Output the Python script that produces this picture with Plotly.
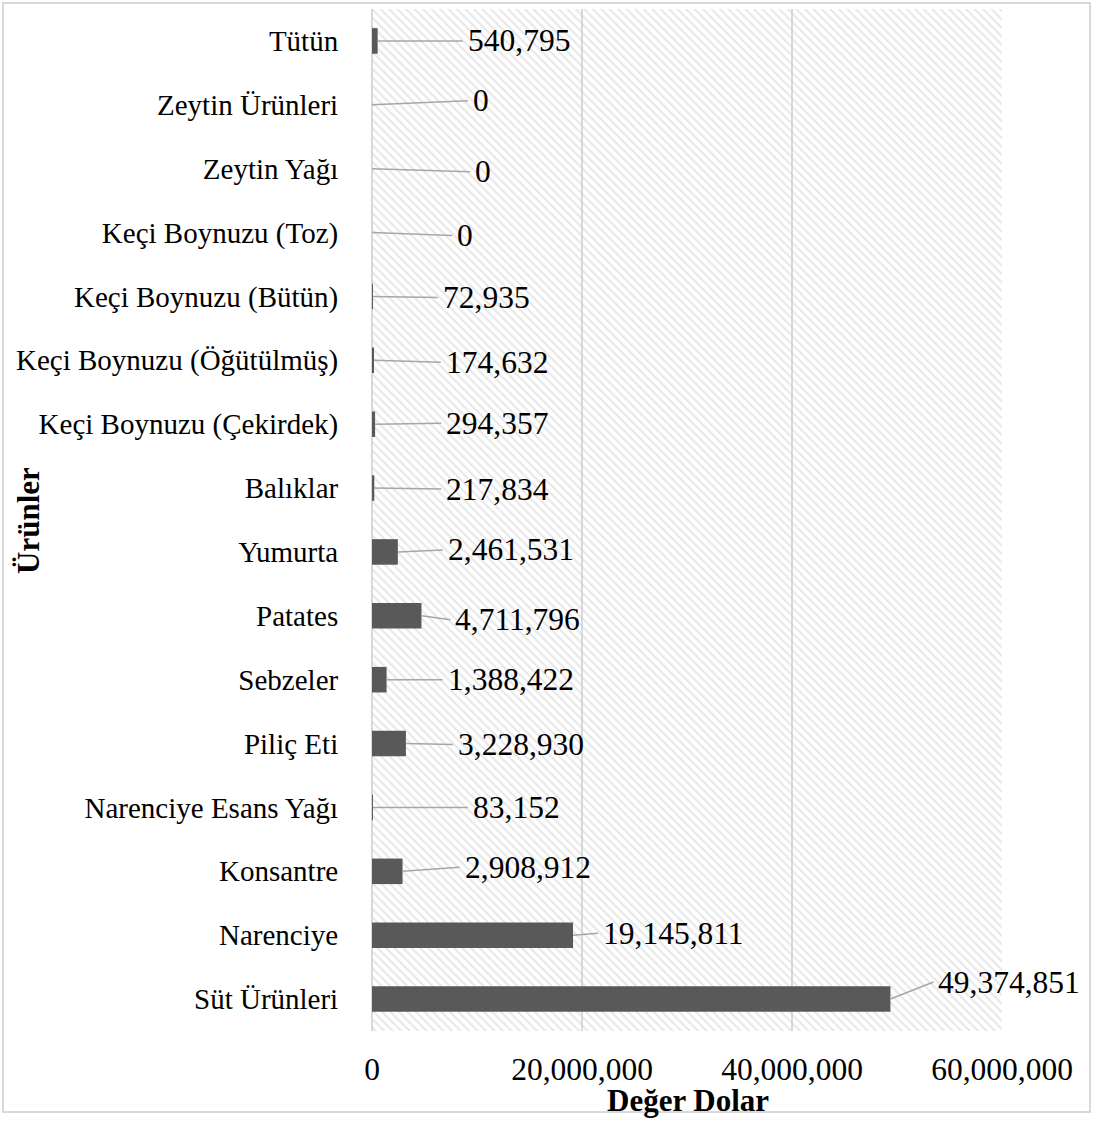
import plotly.graph_objects as go

# ---- data ----
categories = ["Süt Ürünleri", "Narenciye", "Konsantre", "Narenciye Esans Yağı",
              "Piliç Eti", "Sebzeler", "Patates", "Yumurta", "Balıklar",
              "Keçi Boynuzu (Çekirdek)", "Keçi Boynuzu (Öğütülmüş)",
              "Keçi Boynuzu (Bütün)", "Keçi Boynuzu (Toz)", "Zeytin Yağı",
              "Zeytin Ürünleri", "Tütün"]
values = [49374851, 19145811, 2908912, 83152, 3228930, 1388422, 4711796,
          2461531, 217834, 294357, 174632, 72935, 0, 0, 0, 540795]
x_tick_values = [0, 20000000, 40000000, 60000000]
x_tick_labels = ["0", "20,000,000", "40,000,000", "60,000,000"]
x_title = "Değer Dolar"
y_title = "Ürünler"

# ---- style (label leader offsets in px) ----
label_dx = [43, 25, 57, 95, 47, 56, 29, 45, 67, 66, 67, 65, 80, 98, 96, 85]
label_dy = [-17, -2, -4, 0, 1, 0, 4, -2, 1, -1, 2, 1, 3, 3, -4, 0]

W, H = 1096, 1121
L, R, T, B = 372, 94, 9, 90
FONT = "Liberation Serif"
x_range = [x_tick_values[0], x_tick_values[-1]]
y_pos = list(range(len(categories)))
y_range = [-0.5, len(categories) - 0.5]

fig = go.Figure()

# hatched plot-area background (a single bar spanning the whole plot area)
fig.add_trace(go.Bar(
    x=[x_range[1]], base=[x_range[0]],
    y=[(y_range[0] + y_range[1]) / 2], width=[y_range[1] - y_range[0]],
    orientation="h",
    marker=dict(color="rgba(0,0,0,0)", line=dict(width=0),
                pattern=dict(shape="\\", fgcolor="#d0d0d0",
                             bgcolor="rgba(0,0,0,0)", size=6, solidity=0.35)),
    hoverinfo="skip", showlegend=False))

fig.add_trace(go.Bar(
    x=values, y=y_pos, orientation="h", width=0.4,
    marker=dict(color="#595959", line=dict(width=0)),
    showlegend=False))

for i, v in enumerate(values):
    fig.add_annotation(
        x=v, y=y_pos[i], xref="x", yref="y",
        text=f"{v:,}", showarrow=True, arrowhead=0, arrowwidth=1.5,
        arrowcolor="#a6a6a6", ax=label_dx[i], ay=label_dy[i],
        axref="pixel", ayref="pixel",
        xanchor="left", yanchor="middle", borderpad=4,
        font=dict(family=FONT, size=31.5, color="black"))

pw, ph = W - L - R, H - T - B
def px2paper_x(px):
    return (px - L) / pw
def px2paper_y(py):
    return 1 - (py - T) / ph

# axis titles
fig.add_annotation(x=px2paper_x(688), y=px2paper_y(1100), xref="paper", yref="paper",
                   xanchor="center", yanchor="middle",
                   text=f"<b>{x_title}</b>", showarrow=False,
                   font=dict(family=FONT, size=31, color="black"))
fig.add_annotation(x=px2paper_x(28), y=px2paper_y(521), xref="paper", yref="paper",
                   xanchor="center", yanchor="middle",
                   text=f"<b>{y_title}</b>", showarrow=False, textangle=-90,
                   font=dict(family=FONT, size=31, color="black"))

# outer border
fig.add_shape(type="rect", xref="paper", yref="paper",
              x0=px2paper_x(3), x1=px2paper_x(1090),
              y0=px2paper_y(1112), y1=px2paper_y(3),
              line=dict(color="#d9d9d9", width=2), fillcolor="rgba(0,0,0,0)")

fig.update_layout(
    width=W, height=H,
    margin=dict(l=L, r=R, t=T, b=B, autoexpand=False),
    paper_bgcolor="white", plot_bgcolor="white",
    barmode="overlay",
    xaxis=dict(range=x_range, tickvals=x_tick_values, ticktext=x_tick_labels,
               showgrid=True, gridcolor="#d9d9d9", gridwidth=2,
               zeroline=True, zerolinecolor="#d9d9d9", zerolinewidth=2,
               showline=False, ticks="outside", ticklen=10,
               tickcolor="rgba(0,0,0,0)",
               tickfont=dict(family=FONT, size=31.5, color="black")),
    yaxis=dict(range=y_range, tickvals=y_pos, ticktext=categories,
               showgrid=False, zeroline=False, showline=False,
               ticks="outside", ticklen=27, tickcolor="rgba(0,0,0,0)",
               tickfont=dict(family=FONT, size=29, color="black")),
)

fig.write_html("out.html", config={"displayModeBar": False},
               post_script="document.body.style.margin='0';")
